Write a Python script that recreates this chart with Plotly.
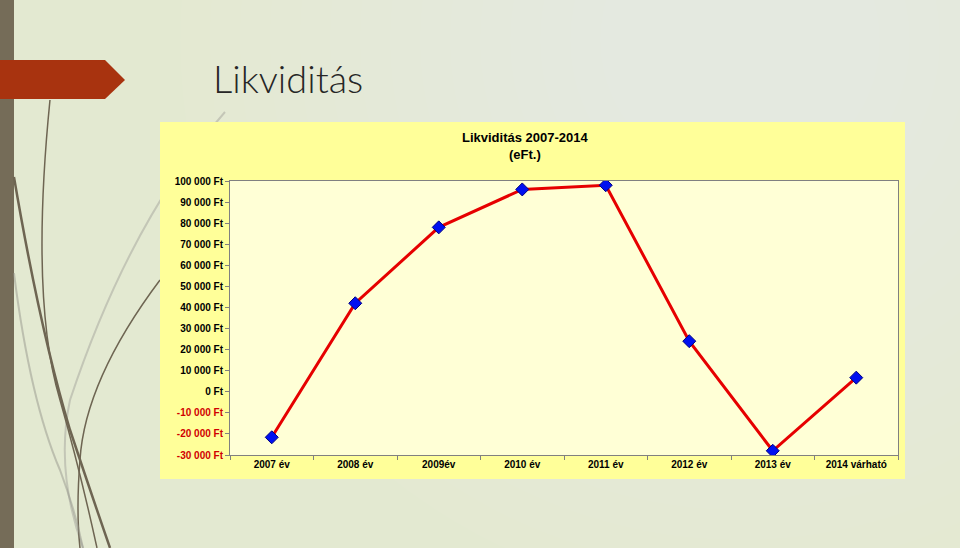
import plotly.graph_objects as go

# ---- data ----
categories = ["2007 év", "2008 év", "2009év", "2010 év", "2011 év", "2012 év", "2013 év", "2014 várható"]
values = [-21600, 42000, 78000, 96000, 98000, 24000, -28000, 6700]
tick_values = [100000, 90000, 80000, 70000, 60000, 50000, 40000, 30000, 20000, 10000, 0, -10000, -20000, -30000]
tick_labels = ["100 000 Ft", "90 000 Ft", "80 000 Ft", "70 000 Ft", "60 000 Ft", "50 000 Ft", "40 000 Ft",
               "30 000 Ft", "20 000 Ft", "10 000 Ft", "0 Ft", "-10 000 Ft", "-20 000 Ft", "-30 000 Ft"]
slide_title = "Likviditás"
chart_title = "Likviditás 2007-2014<br>(eFt.)"

W, H = 960, 548
L, R, T, B = 230, 62, 181, 93
PW, PH = W - L - R, H - T - B


def px(x):
    return (x - L) / PW


def py(y):
    return (H - B - y) / PH


def path(points):
    (x0, y0) = points[0]
    s = f"M {px(x0):.4f},{py(y0):.4f}"
    rest = points[1:]
    for i in range(0, len(rest), 2):
        (cx, cy), (ex, ey) = rest[i], rest[i + 1]
        s += f" Q {px(cx):.4f},{py(cy):.4f} {px(ex):.4f},{py(ey):.4f}"
    return s


tick_text = [
    (f'<span style="color:#D00000">{t}</span>' if v < 0 else t)
    for v, t in zip(tick_values, tick_labels)
]

fig = go.Figure()
fig.add_trace(go.Scatter(
    x=categories, y=values, mode="lines+markers",
    line=dict(color="#E60000", width=3),
    marker=dict(symbol="diamond", size=10, color="#0010F0", line=dict(color="#000080", width=1)),
    showlegend=False, hoverinfo="skip",
))

shapes = []
# soft lighter glow on slide background (top right)
for r in range(560, 120, -30):
    cx, cy = 740, 40
    shapes.append(dict(type="circle", xref="paper", yref="paper", layer="below",
                       x0=px(cx - r), x1=px(cx + r), y0=py(cy + r), y1=py(cy - r),
                       fillcolor="rgba(255,255,250,0.035)", line=dict(width=0)))
# brown vertical bar
shapes.append(dict(type="rect", xref="paper", yref="paper", layer="below",
                   x0=px(0), x1=px(14), y0=py(548), y1=py(0),
                   fillcolor="#756C58", line=dict(width=0)))
# decorative curves
curves = [
    ([(225, 112), (130, 220), (70, 400), (55, 470), (83, 548)], "rgba(170,170,160,0.55)", 2),
    ([(160, 280), (85, 380), (80, 460), (76, 510), (80, 548)], "#6E6552", 1.5),
    ([(50, 100), (30, 300), (60, 400), (80, 470), (97, 548)], "#6E6552", 1.5),
    ([(14, 177), (40, 330), (70, 430), (90, 490), (110, 548)], "#6E6552", 2.5),
    ([(14, 273), (30, 400), (60, 470), (75, 510), (83, 548)], "rgba(150,150,140,0.5)", 2),
]
for pts, col, w in curves:
    shapes.append(dict(type="path", xref="paper", yref="paper", layer="below",
                       path=path(pts), line=dict(color=col, width=w)))
# red arrow
arrow = f"M {px(0)},{py(60)} L {px(105)},{py(60)} L {px(125)},{py(80)} L {px(105)},{py(99)} L {px(0)},{py(99)} Z"
shapes.append(dict(type="path", xref="paper", yref="paper", layer="below",
                   path=arrow, fillcolor="#A8330F", line=dict(width=0)))
# chart panel
shapes.append(dict(type="rect", xref="paper", yref="paper", layer="below",
                   x0=px(160), x1=px(905), y0=py(479), y1=py(122),
                   fillcolor="#FFFF99", line=dict(width=0)))
# plot area fill
shapes.append(dict(type="rect", xref="paper", yref="paper", layer="below",
                   x0=0, x1=1, y0=0, y1=1, fillcolor="#FFFFD6", line=dict(width=0)))

fig.update_layout(
    width=W, height=H,
    margin=dict(l=L, r=R, t=T, b=B, pad=0),
    paper_bgcolor="#E3E9D1",
    plot_bgcolor="rgba(0,0,0,0)",
    shapes=shapes,
    font=dict(family="Liberation Sans, Arial, sans-serif", color="#000000"),
    xaxis=dict(
        type="category", range=[-0.5, len(categories) - 0.5],
        showgrid=False, zeroline=False, showline=True, linecolor="#808080", linewidth=1, mirror=True,
        ticks="outside", ticklen=4, tickcolor="#808080", tickson="boundaries",
        tickfont=dict(size=10, weight="bold", family="Liberation Sans, Arial, sans-serif"),
        fixedrange=True,
    ),
    yaxis=dict(
        range=[-30000, 100000], tickvals=tick_values, ticktext=tick_text,
        showgrid=False, zeroline=False, showline=True, linecolor="#808080", linewidth=1, mirror=True,
        ticks="outside", ticklen=4, tickcolor="#808080",
        tickfont=dict(size=10, weight="bold", family="Liberation Sans, Arial, sans-serif"),
        fixedrange=True,
    ),
    annotations=[
        dict(text=slide_title, xref="paper", yref="paper", x=px(211), y=py(78), xanchor="left", yanchor="middle",
             showarrow=False, font=dict(family="Lato, sans-serif", size=38, color="#262626", weight=300)),
        dict(text=chart_title, xref="paper", yref="paper", x=px(525), y=py(146), xanchor="center", yanchor="middle",
             showarrow=False, font=dict(family="Liberation Sans, Arial, sans-serif", size=13, color="#000000", weight="bold")),
    ],
)

fig.write_html("out.html")
